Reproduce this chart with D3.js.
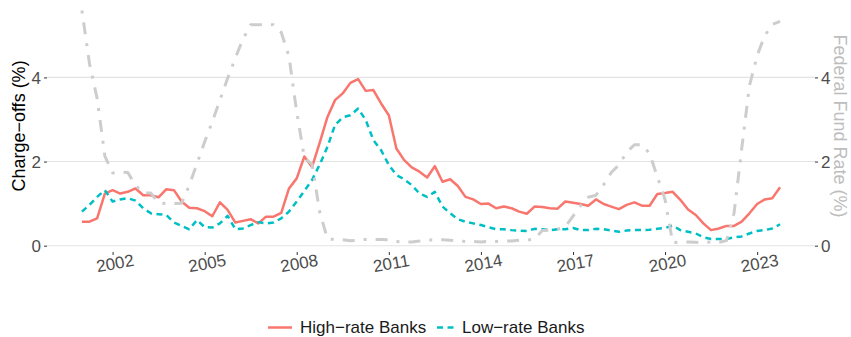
<!DOCTYPE html>
<html>
<head>
<meta charset="utf-8">
<script src="https://cdn.jsdelivr.net/npm/d3@7"></script>
<style>
  html, body { margin: 0; padding: 0; background: #fff; }
  svg { display: block; font-family: "Liberation Sans", Arial, sans-serif; }
</style>
</head>
<body>
<svg id="chart" width="851" height="337"></svg>
<script>
// Quarterly series, 2001Q1 through 2023Q4
const firstQuarter = "2001-01-01";
const highRate = [
  0.57, 0.57, 0.65, 1.24,  1.32, 1.24, 1.28, 1.36,  1.20, 1.20, 1.15, 1.34,
  1.32, 1.05, 0.90, 0.89,  0.82, 0.70, 1.03, 0.85,  0.55, 0.59, 0.63, 0.53,
  0.69, 0.69, 0.78, 1.36,  1.60, 2.12, 1.87, 2.45,  3.06, 3.46, 3.62, 3.87,
  3.96, 3.68, 3.70, 3.38,  3.10, 2.31, 2.04, 1.86,  1.76, 1.62, 1.89, 1.52,
  1.58, 1.42, 1.16, 1.10,  0.99, 1.00, 0.89, 0.93,  0.89, 0.81, 0.76, 0.93,
  0.92, 0.89, 0.88, 1.05,  1.02, 0.99, 0.95, 1.10,  0.99, 0.93, 0.87, 0.97,
  1.03, 0.95, 0.95, 1.23,  1.25, 1.28, 1.09, 0.86,  0.73, 0.53, 0.37, 0.41,
  0.47, 0.47, 0.57, 0.77,  0.99, 1.10, 1.13, 1.39
];
const lowRate = [
  0.81, 0.97, 1.16, 1.32,  1.05, 1.10, 1.13, 1.07,  0.89, 0.77, 0.75, 0.73,
  0.55, 0.47, 0.39, 0.61,  0.44, 0.43, 0.53, 0.71,  0.39, 0.41, 0.49, 0.56,
  0.53, 0.55, 0.65, 0.81,  1.05, 1.30, 1.56, 1.93,  2.35, 2.87, 3.05, 3.10,
  3.26, 2.99, 2.51, 2.27,  1.92, 1.68, 1.58, 1.44,  1.24, 1.16, 1.28, 0.93,
  0.77, 0.63, 0.57, 0.53,  0.49, 0.44, 0.39, 0.39,  0.37, 0.36, 0.35, 0.40,
  0.39, 0.37, 0.39, 0.39,  0.42, 0.37, 0.37, 0.40,  0.39, 0.36, 0.33, 0.36,
  0.37, 0.37, 0.38, 0.40,  0.42, 0.48, 0.37, 0.33,  0.29, 0.20, 0.16, 0.16,
  0.16, 0.20, 0.22, 0.29,  0.35, 0.37, 0.41, 0.51
];
const fedFunds = [
  5.59, 4.33, 3.50, 2.13,  1.73, 1.75, 1.74, 1.44,  1.25, 1.25, 1.02, 1.00,
  1.00, 1.01, 1.43, 1.95,  2.47, 2.94, 3.46, 3.98,  4.46, 4.91, 5.25, 5.25,
  5.26, 5.25, 5.07, 4.50,  3.18, 2.09, 1.94, 0.80,  0.16, 0.15, 0.14, 0.12,
  0.13, 0.15, 0.15, 0.15,  0.14, 0.10, 0.09, 0.09,  0.11, 0.14, 0.13, 0.14,
  0.13, 0.12, 0.10, 0.10,  0.09, 0.10, 0.10, 0.11,  0.11, 0.13, 0.13, 0.16,
  0.36, 0.37, 0.39, 0.45,  0.70, 0.95, 1.15, 1.20,  1.45, 1.74, 1.92, 2.22,
  2.40, 2.40, 2.19, 1.64,  1.10, 0.07, 0.09, 0.09,  0.08, 0.07, 0.09, 0.08,
  0.12, 0.77, 2.30, 3.80,  4.52, 4.99, 5.26, 5.33
];
const xTickYears = [2002, 2005, 2008, 2011, 2014, 2017, 2020, 2023];
const yTicks = [0, 2, 4];
const seriesNames = ["High\u2212rate Banks", "Low\u2212rate Banks"];

const start = new Date(firstQuarter + "T00:00:00");
const dates = highRate.map((_, i) => d3.timeMonth.offset(start, 3 * i));

const svg = d3.select("#chart");
const panel = { left: 47, right: 815, top: 0, bottom: 252 };

// x: time scale with 5% padding on both ends
const [d0, d1] = d3.extent(dates);
const pad = (d1 - d0) * 0.05;
const x = d3.scaleTime()
  .domain([new Date(+d0 - pad), new Date(+d1 + pad)])
  .range([panel.left, panel.right]);

const y = d3.scaleLinear()
  .domain([-0.15, 5.84])
  .range([panel.bottom, panel.top]);

// horizontal grid
svg.append("g")
  .selectAll("line")
  .data(yTicks)
  .join("line")
  .attr("x1", panel.left).attr("x2", panel.right)
  .attr("y1", d => y(d)).attr("y2", d => y(d))
  .attr("stroke", "#e3e3e3").attr("stroke-width", 1.1);

// left axis
const leftAxis = svg.append("g")
  .attr("transform", `translate(${panel.left},0)`)
  .call(d3.axisLeft(y).tickValues(yTicks).tickSize(3).tickPadding(3).tickFormat(d3.format("d")));
// right axis (same scale, Fed rate)
const rightAxis = svg.append("g")
  .attr("transform", `translate(${panel.right},0)`)
  .call(d3.axisRight(y).tickValues(yTicks).tickSize(3).tickPadding(3).tickFormat(d3.format("d")));
// bottom axis
const bottomAxis = svg.append("g")
  .attr("transform", `translate(0,${panel.bottom})`)
  .call(d3.axisBottom(x)
    .tickValues(xTickYears.map(yr => new Date(yr, 0, 1)))
    .tickSize(3)
    .tickFormat(d3.timeFormat("%Y")));

[leftAxis, rightAxis, bottomAxis].forEach(g => {
  g.select(".domain").remove();
  g.selectAll(".tick line").attr("stroke", "#333").attr("stroke-width", 1);
  g.selectAll(".tick text")
    .attr("fill", "#4d4d4d")
    .style("font-size", "17px")
    .style("font-family", "'Liberation Sans', Arial, sans-serif");
});

bottomAxis.selectAll(".tick text")
  .attr("y", null).attr("dy", null)
  .attr("text-anchor", "middle")
  .attr("transform", "translate(3,17) rotate(-10)");

leftAxis.selectAll(".tick text").attr("dy", "0.36em");
rightAxis.selectAll(".tick text").attr("dy", "0.36em");

// lines
const line = vals => d3.line()
  .x((d, i) => x(dates[i]))
  .y(d => y(d))(vals);

svg.append("path")
  .attr("d", line(highRate))
  .attr("fill", "none")
  .attr("stroke", "#F8766D")
  .attr("stroke-width", 2.5)
  .attr("stroke-linejoin", "round");

svg.append("path")
  .attr("d", line(lowRate))
  .attr("fill", "none")
  .attr("stroke", "#00BFC4")
  .attr("stroke-width", 2.5)
  .attr("stroke-dasharray", "6 4.5")
  .attr("stroke-linejoin", "round");

svg.append("path")
  .attr("d", line(fedFunds))
  .attr("fill", "none")
  .attr("stroke", "#cdcdcd")
  .attr("stroke-width", 3)
  .attr("stroke-dasharray", "3 9 12 9")
  .attr("stroke-linejoin", "round");

// axis titles
svg.append("text")
  .attr("transform", `translate(25,${(panel.top + panel.bottom) / 2}) rotate(-90)`)
  .attr("text-anchor", "middle")
  .attr("fill", "#000")
  .style("font-size", "18px")
  .text("Charge\u2212offs (%)");

svg.append("text")
  .attr("transform", `translate(834,${(panel.top + panel.bottom) / 2}) rotate(90)`)
  .attr("text-anchor", "middle")
  .attr("fill", "#bdbdbd")
  .style("font-size", "18px")
  .text("Federal Fund Rate (%)");

// legend
const legend = svg.append("g");
const keyY = 327.5;
legend.append("line")
  .attr("x1", 268).attr("x2", 292).attr("y1", keyY).attr("y2", keyY)
  .attr("stroke", "#F8766D").attr("stroke-width", 2.5);
legend.append("text")
  .attr("x", 300).attr("y", 333)
  .attr("fill", "#1a1a1a").style("font-size", "17px")
  .text(seriesNames[0]);
legend.append("line")
  .attr("x1", 437).attr("x2", 455).attr("y1", keyY).attr("y2", keyY)
  .attr("stroke", "#00BFC4").attr("stroke-width", 2.5)
  .attr("stroke-dasharray", "6 4.5");
legend.append("text")
  .attr("x", 462).attr("y", 333)
  .attr("fill", "#1a1a1a").style("font-size", "17px")
  .text(seriesNames[1]);
</script>
</body>
</html>
